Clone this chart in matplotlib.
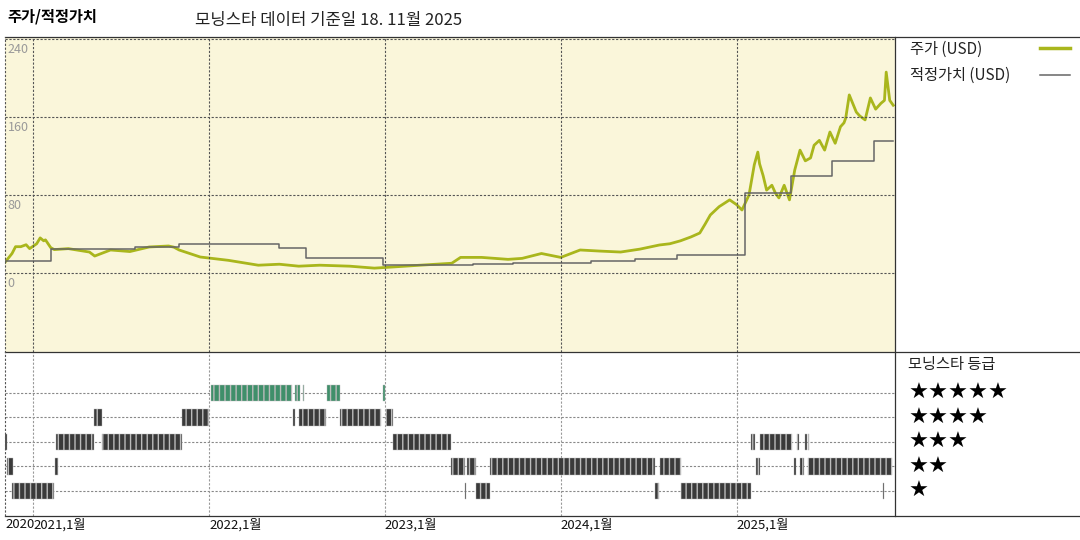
import matplotlib
matplotlib.use("Agg")
import matplotlib.pyplot as plt
import matplotlib.transforms as mtrans
from matplotlib.lines import Line2D

plt.rcParams['font.family'] = ['Noto Sans CJK KR', 'DejaVu Sans']

# price (decimal year, USD) -- rows of 10 matching items
price_x = [2020.84, 2020.88, 2020.90, 2020.93, 2020.96, 2020.98, 2021.02, 2021.04, 2021.06, 2021.07,
           2021.10, 2021.12, 2021.20, 2021.32, 2021.35, 2021.44, 2021.55, 2021.66, 2021.77, 2021.80,
           2021.83, 2021.95, 2022.11, 2022.28, 2022.40, 2022.51, 2022.63, 2022.80, 2022.94, 2023.03,
           2023.20, 2023.38, 2023.43, 2023.55, 2023.70, 2023.78, 2023.89, 2024.00, 2024.11, 2024.22,
           2024.34, 2024.45, 2024.56, 2024.62, 2024.68, 2024.74, 2024.79, 2024.82, 2024.85, 2024.90,
           2024.96, 2025.00, 2025.03, 2025.07, 2025.10, 2025.12, 2025.13, 2025.15, 2025.17, 2025.20,
           2025.22, 2025.24, 2025.27, 2025.30, 2025.33, 2025.36, 2025.39, 2025.42, 2025.44, 2025.47,
           2025.50, 2025.53, 2025.56, 2025.59, 2025.61, 2025.62, 2025.64, 2025.68, 2025.70, 2025.73,
           2025.76, 2025.79, 2025.82, 2025.84, 2025.85, 2025.87, 2025.89]
price_y = [11, 20, 27, 27, 29, 25, 30, 36, 33, 34,
           26, 24, 25, 21.5, 17.4, 23.6, 22, 26.7, 27.7, 26.5,
           23.6, 16.4, 13, 8, 9, 7, 8, 7, 5, 6,
           8, 10, 16, 16, 14, 15, 20, 16, 23.6, 22.5,
           21.5, 24.5, 28.7, 30, 33, 37, 41, 50, 59.5, 68,
           75, 70, 64.6, 80, 111, 124, 112, 100, 85, 90,
           82, 77, 90, 75, 105.6, 126, 115, 118, 131, 136,
           126, 144.6, 133, 150, 154, 159, 182.6, 165, 161, 157,
           179.5, 168, 174, 177, 206, 177, 172]

# fair value steps (start year, value)
fv_x = [2020.84, 2021.10, 2021.58, 2021.83, 2022.40, 2022.55, 2022.99, 2023.50, 2023.73, 2024.17,
        2024.42, 2024.66, 2025.05, 2025.31, 2025.54, 2025.78, 2025.89]
fv_y = [12.3, 24.6, 26.7, 29.7, 25.6, 15.4, 8.2, 9.0, 10.0, 12.3,
        14.5, 18.5, 82, 99.5, 115, 135.4, 135.4]

# Morningstar rating periods (stars, start, end) in decimal years
rating_stars = [5, 5, 5, 5, 5,
                4, 4, 4, 4, 4, 4, 4,
                3, 3, 3, 3, 3, 3, 3, 3, 3,
                2, 2, 2, 2, 2, 2, 2, 2, 2, 2,
                1, 1, 1, 1, 1, 1]
rating_start = [2022.012, 2022.488, 2022.535, 2022.671, 2022.988,
                2020.830, 2021.347, 2021.847, 2022.476, 2022.512, 2022.747, 2023.006,
                2020.840, 2021.129, 2021.394, 2023.047, 2025.084, 2025.133, 2025.343, 2025.386, 2025.406,
                2020.853, 2021.124, 2023.376, 2023.465, 2023.600, 2024.565, 2025.108, 2025.324, 2025.359, 2025.408,
                2020.882, 2023.453, 2023.518, 2024.535, 2024.682, 2025.833]
rating_end = [2022.470, 2022.518, 2022.541, 2022.747, 2023.000,
              2020.836, 2021.394, 2022.000, 2022.488, 2022.665, 2022.976, 2023.047,
              2020.853, 2021.347, 2021.847, 2023.376, 2025.104, 2025.316, 2025.357, 2025.398, 2025.412,
              2020.888, 2021.141, 2023.453, 2023.518, 2024.535, 2024.682, 2025.133, 2025.339, 2025.384, 2025.882,
              2021.118, 2023.459, 2023.600, 2024.561, 2025.080, 2025.838]

green = '#a9b61c'
fig = plt.figure(figsize=(10.8, 5.4), dpi=100)
W, H = 1080, 540
def rect(x0, y0, x1, y1):
    return [x0 / W, 1 - y1 / H, (x1 - x0) / W, (y1 - y0) / H]

xlim = (2020.84, 2025.90)
years = [2021, 2022, 2023, 2024, 2025]

ax = fig.add_axes(rect(5, 37, 895, 352))
ax.set_facecolor('#faf6da')
ax.plot(price_x, price_y, color=green, lw=2)
ax.step(fv_x, fv_y, where='post', color='#666666', lw=1.1)
ax.set_xlim(*xlim)
ax.set_ylim(-81, 242)
for v in [0, 80, 160, 240]:
    ax.axhline(v, color='#555555', lw=0.8, ls=(0, (2, 1.5)))
    ax.text(2020.855, v - 4, str(v), color='#999999', fontsize=9, va='top', ha='left')
for yv in years:
    ax.axvline(yv, color='#555555', lw=0.8, ls=(0, (2, 1.5)))
ax.set_xticks([]); ax.set_yticks([])
for s in ax.spines.values():
    s.set_visible(False)

ax2 = fig.add_axes(rect(5, 352, 895, 516))
ax2.set_xlim(*xlim)
ax2.set_ylim(-0.02, 6.67)
for st in [1, 2, 3, 4, 5]:
    ax2.axhline(st, color='#888888', lw=0.8, ls=(0, (2, 1.5)), zorder=0)
for yv in years:
    ax2.axvline(yv, color='#999999', lw=0.8, ls=(0, (2, 1.5)), zorder=0)
for st, a, b in zip(rating_stars, rating_start, rating_end):
    fc = '#3f8f6a' if st == 5 else '#3a3a3a'
    ax2.broken_barh([(a, max(b - a, 0.004))], (st - 0.33, 0.66), facecolor=fc, edgecolor='#bbbbbb',
                    hatch='|||', lw=0.3, zorder=2)
ax2.set_xticks([])
ax2.set_yticks([])
for s in ax2.spines.values():
    s.set_visible(False)
tr = mtrans.blended_transform_factory(ax2.transAxes, ax2.transData)
for st in [5, 4, 3, 2, 1]:
    ax2.text(1.015, st, '★' * st, transform=tr, fontsize=16, va='center', ha='left',
             family=['DejaVu Sans'])
ax2.text(1.015, 6.15, '모닝스타 등급', transform=tr, fontsize=11, va='center', ha='left', color='#222222')

# x tick labels
lbl = ['2020', '2021,1월', '2022,1월', '2023,1월', '2024,1월', '2025,1월']
pos = [2020.84, 2021, 2022, 2023, 2024, 2025]
for p, l in zip(pos, lbl):
    ax2.text(p, -0.1, l, fontsize=9.5, va='top', ha='left', color='#111111')

# frame lines
for y in [37, 352, 516]:
    fig.add_artist(Line2D([5 / W, 1], [1 - y / H] * 2, color='#333333', lw=0.9))
fig.add_artist(Line2D([5 / W] * 2, [1 - 516 / H, 1 - 37 / H], color='#555555', lw=0.8, ls=(0, (2, 1.5))))
fig.add_artist(Line2D([895 / W] * 2, [1 - 516 / H, 1 - 37 / H], color='#333333', lw=0.9))

# legend
fig.text(910 / W, 1 - 49 / H, '주가 (USD)', fontsize=11, va='center', color='#222222')
fig.add_artist(Line2D([1040 / W, 1070 / W], [1 - 48 / H] * 2, color=green, lw=2.5))
fig.text(910 / W, 1 - 75 / H, '적정가치 (USD)', fontsize=11, va='center', color='#222222')
fig.add_artist(Line2D([1040 / W, 1070 / W], [1 - 75 / H] * 2, color='#666666', lw=1.1))

fig.text(7 / W, 1 - 16 / H, '주가/적정가치', fontsize=11, fontweight='bold', va='center')
fig.text(195 / W, 1 - 20 / H, '모닝스타 데이터 기준일 18. 11월 2025', fontsize=12, va='center', color='#222222')

fig.savefig('out.png', dpi=100, facecolor='white')
